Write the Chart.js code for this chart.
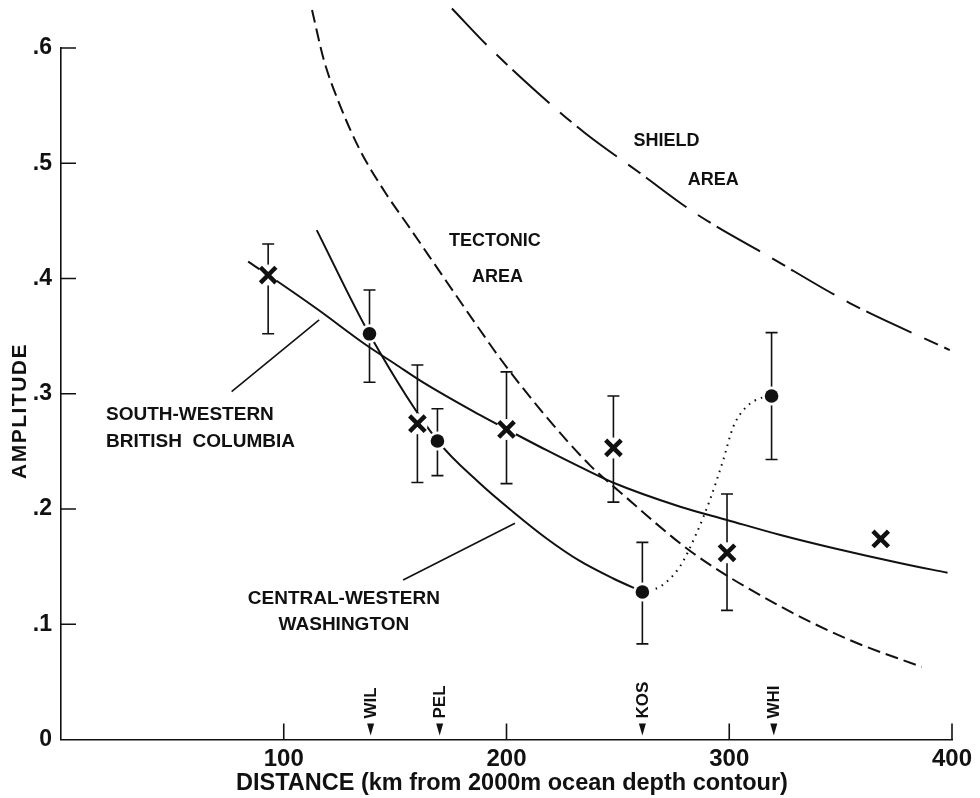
<!DOCTYPE html>
<html>
<head>
<meta charset="utf-8">
<title>Amplitude versus distance</title>
<script src="https://cdn.jsdelivr.net/npm/chart.js@4.4.1/dist/chart.umd.min.js"></script>
<style>
  html, body { margin: 0; padding: 0; background: #fff; }
  #wrap { width: 980px; height: 798px; }
</style>
</head>
<body>
<div id="wrap"><canvas id="chart" width="980" height="798"></canvas></div>
<script>
// ---- Observations: South-Western British Columbia (crosses) ----
const bcDistance  = [93, 160, 200, 248, 299, 368];
const bcAmplitude = [0.403, 0.274, 0.269, 0.253, 0.162, 0.174];
const bcLow       = [0.352, 0.223, 0.222, 0.206, 0.112, null];
const bcHigh      = [0.430, 0.325, 0.319, 0.298, 0.213, null];

// ---- Observations: Central-Western Washington (dots) ----
const waDistance  = [138.5, 169, 261, 319];
const waAmplitude = [0.352, 0.259, 0.128, 0.298];
const waLow       = [0.310, 0.229, 0.083, 0.243];
const waHigh      = [0.390, 0.287, 0.171, 0.353];

// ---- Curves ----
const bcCurveX = [84, 93, 115, 137, 150, 162, 188, 200, 218, 233, 248, 278, 299, 323, 347, 377, 398];
const bcCurveY = [0.4146, 0.403, 0.3735, 0.3423, 0.3258, 0.3105, 0.2816, 0.2692, 0.251, 0.2365, 0.2228, 0.202, 0.1905, 0.1774, 0.1659, 0.1529, 0.1447];

const waCurveX = [114.8, 138.5, 169, 188, 203, 218, 232.9, 247.9, 261];
const waCurveY = [0.442, 0.3516, 0.2593, 0.2223, 0.1974, 0.1744, 0.1549, 0.1397, 0.1282];

const waDottedX = [261, 268.9, 277.8, 285.3, 291.3, 297.3, 301.8, 307.8, 315.2, 319];
const waDottedY = [0.1282, 0.1326, 0.1499, 0.1789, 0.2078, 0.2425, 0.2714, 0.2888, 0.2969, 0.298];

const tectonicX = [112.7, 118.0, 125.2, 134.2, 145.4, 156.6, 173.2, 188.1, 197.0, 217.2, 237.4, 250.9, 283.7, 322.7, 354.1, 386.4];
const tectonicY = [0.633, 0.5896, 0.5505, 0.5115, 0.4751, 0.4438, 0.397, 0.3553, 0.331, 0.2815, 0.2381, 0.2148, 0.1618, 0.1158, 0.0863, 0.0629];

const shieldX = [175.5, 192.5, 221.7, 235.2, 259.9, 284.6, 318.2, 354.1, 399];
const shieldY = [0.6343, 0.600, 0.548, 0.5263, 0.4915, 0.4568, 0.4187, 0.3787, 0.3379];

// ---- Leader lines from the region labels ----
const bcLeaderX = [76.6, 115.9];
const bcLeaderY = [0.3018, 0.364];
const waLeaderX = [153.6, 203.8];
const waLeaderY = [0.1384, 0.1876];

// ---- Stations along the distance axis ----
const stationNames = ['WIL', 'PEL', 'KOS', 'WHI'];
const stationDistance = [139, 170, 261, 320];

// ---- Axis ticks ----
const xTickValues = [100, 200, 300, 400];
const yTickValues = [0.1, 0.2, 0.3, 0.4, 0.5, 0.6];

const ink = '#111';
const sans = "'Liberation Sans', Arial, sans-serif";

const pts = (xs, ys) => xs.map((v, i) => ({ x: v, y: ys[i] }));

function curve(xs, ys, dash, width) {
  return {
    data: pts(xs, ys), showLine: true, pointRadius: 0, borderColor: ink,
    borderWidth: width || 2, borderDash: dash || [], cubicInterpolationMode: 'monotone',
    fill: false, clip: false, order: 3
  };
}

const sketch = {
  id: 'sketch',
  beforeDatasetsDraw(chart) {
    const { ctx, scales: { x, y } } = chart;
    ctx.save();
    ctx.strokeStyle = ink;
    ctx.lineWidth = 1.6;
    const bars = (xs, lo, hi) => xs.forEach((d, i) => {
      if (lo[i] == null) return;
      const px = x.getPixelForValue(d);
      const y1 = y.getPixelForValue(lo[i]);
      const y2 = y.getPixelForValue(hi[i]);
      ctx.beginPath();
      ctx.moveTo(px, y1); ctx.lineTo(px, y2);
      ctx.moveTo(px - 6, y1); ctx.lineTo(px + 6, y1);
      ctx.moveTo(px - 6, y2); ctx.lineTo(px + 6, y2);
      ctx.stroke();
    });
    bars(bcDistance, bcLow, bcHigh);
    bars(waDistance, waLow, waHigh);
    ctx.restore();
  },
  afterDraw(chart) {
    const { ctx, chartArea: a, scales: { x, y } } = chart;
    ctx.save();
    ctx.strokeStyle = ink;
    ctx.fillStyle = ink;
    ctx.lineWidth = 1.6;

    // inward tick marks
    ctx.beginPath();
    yTickValues.forEach(v => {
      const py = y.getPixelForValue(v);
      ctx.moveTo(a.left, py); ctx.lineTo(a.left + 15, py);
    });
    xTickValues.forEach(v => {
      const px = x.getPixelForValue(v);
      ctx.moveTo(px, a.bottom); ctx.lineTo(px, a.bottom - 16);
    });
    ctx.stroke();

    // station arrows and names
    ctx.font = 'bold 17px ' + sans;
    stationDistance.forEach((d, i) => {
      const px = x.getPixelForValue(d);
      ctx.beginPath();
      ctx.moveTo(px - 3.5, a.bottom - 16);
      ctx.lineTo(px + 3.5, a.bottom - 16);
      ctx.lineTo(px, a.bottom - 4);
      ctx.closePath();
      ctx.fill();
      ctx.save();
      ctx.translate(px + 1, a.bottom - 21);
      ctx.rotate(-Math.PI / 2);
      ctx.textAlign = 'left';
      ctx.textBaseline = 'middle';
      ctx.fillText(stationNames[i], 0, 0);
      ctx.restore();
    });

    // region labels
    ctx.font = 'bold 19px ' + sans;
    ctx.textBaseline = 'middle';
    const label = (text, dx, dy, align) => {
      ctx.textAlign = align || 'left';
      ctx.fillText(text, x.getPixelForValue(dx), y.getPixelForValue(dy));
    };
    label('SOUTH-WESTERN', 20.2, 0.2816);
    label('BRITISH  COLUMBIA', 20.2, 0.2584);
    label('CENTRAL-WESTERN', 127, 0.1225, 'center');
    label('WASHINGTON', 127, 0.0993, 'center');
    ctx.font = 'bold 18px ' + sans;
    label('TECTONIC', 194.8, 0.4328, 'center');
    label('AREA', 196, 0.4016, 'center');
    label('SHIELD', 257, 0.5193);
    label('AREA', 281.4, 0.4855);

    // axis titles
    ctx.font = 'bold 23.5px ' + sans;
    ctx.textAlign = 'center';
    ctx.fillText('DISTANCE (km from 2000m ocean depth contour)', 512, 784);
    ctx.save();
    ctx.translate(20, 411);
    ctx.rotate(-Math.PI / 2);
    ctx.font = 'bold 21px ' + sans;
    if ('letterSpacing' in ctx) ctx.letterSpacing = '1.5px';
    ctx.fillText('AMPLITUDE', 0, 0);
    ctx.restore();
    ctx.restore();
  }
};

new Chart(document.getElementById('chart'), {
  type: 'scatter',
  data: {
    datasets: [
      // markers
      { data: pts(bcDistance, bcAmplitude), pointStyle: 'crossRot', pointRadius: 11,
        borderWidth: 4.5, borderColor: ink, backgroundColor: ink, order: 0 },
      { data: pts(waDistance, waAmplitude), pointStyle: 'circle', pointRadius: 6.8,
        borderWidth: 0, backgroundColor: ink, order: 0 },
      // white clearance under each marker
      { data: pts(bcDistance, bcAmplitude), pointStyle: 'circle', pointRadius: 10.5,
        borderWidth: 0, backgroundColor: '#fff', order: 1 },
      { data: pts(waDistance, waAmplitude), pointStyle: 'circle', pointRadius: 9.5,
        borderWidth: 0, backgroundColor: '#fff', order: 1 },
      // curves
      curve(bcCurveX, bcCurveY),
      curve(waCurveX, waCurveY),
      curve(waDottedX, waDottedY, [1.6, 5.2], 2),
      curve(tectonicX, tectonicY, [13, 6]),
      curve(shieldX, shieldY, [50, 14, 15, 7]),
      curve(bcLeaderX, bcLeaderY, [], 1.6),
      curve(waLeaderX, waLeaderY, [], 1.6)
    ]
  },
  options: {
    responsive: false,
    animation: false,
    devicePixelRatio: 1,
    layout: { padding: { top: 48, right: 28, left: 0, bottom: 0 } },
    plugins: { legend: { display: false }, tooltip: { enabled: false } },
    scales: {
      x: {
        type: 'linear', min: 0, max: 400,
        afterFit(s) { s.height = 58.5; },
        grid: { display: false, drawTicks: false },
        border: { display: true, color: ink, width: 1.6 },
        ticks: {
          stepSize: 100, autoSkip: false, maxRotation: 0, padding: 5, color: ink,
          font: { family: sans, size: 24, weight: 'bold' },
          callback: v => (v === 0 ? '' : String(v))
        }
      },
      y: {
        type: 'linear', min: 0, max: 0.6,
        afterFit(s) { s.width = 61; },
        grid: { display: false, drawTicks: false },
        border: { display: true, color: ink, width: 1.6 },
        ticks: {
          stepSize: 0.1, padding: 9, color: ink,
          font: { family: sans, size: 23, weight: 'bold' },
          callback: v => (Math.abs(v) < 1e-9 ? '0' : '.' + Math.round(v * 10))
        }
      }
    }
  },
  plugins: [sketch]
});
</script>
</body>
</html>
